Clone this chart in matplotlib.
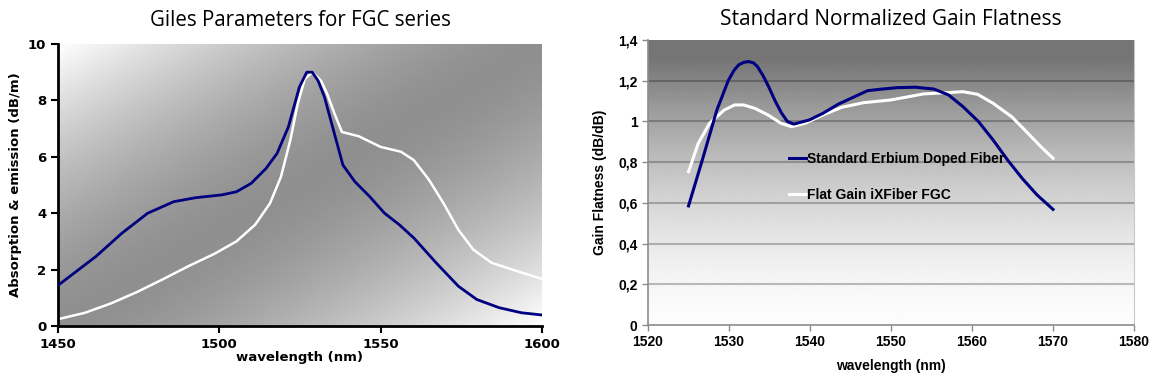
import numpy as np
import matplotlib.pyplot as plt
from matplotlib.ticker import FixedLocator, FixedFormatter

# left chart: Giles parameters (absorption / emission)
giles_abs_wl = [1450, 1461.8, 1469.8, 1477.8, 1485.9, 1492.7, 1500.8, 1505.3, 1509.9,
                1514.5, 1517.9, 1521.4, 1524.8, 1527.1, 1528.8, 1530.6, 1532.6, 1535.1,
                1538.3, 1542.0, 1546.6, 1551.2, 1555.8, 1560.3, 1567.2, 1574.1, 1579.8,
                1586.7, 1593.6, 1600]
giles_abs = [1.44, 2.47, 3.29, 4.0, 4.41, 4.55, 4.65, 4.76, 5.06,
             5.59, 6.12, 7.06, 8.47, 9.0, 9.0, 8.7, 8.12, 7.06,
             5.71, 5.12, 4.59, 4.0, 3.59, 3.12, 2.24, 1.41, 0.94,
             0.65, 0.47, 0.39]

giles_em_wl = [1450, 1458.4, 1466.4, 1474.4, 1482.4, 1490.4, 1498.5, 1505.3, 1511.1,
               1515.7, 1519.1, 1522.0, 1524.3, 1526.5, 1528.8, 1531.5, 1533.4, 1535.7,
               1538.0, 1543.2, 1550.0, 1556.3, 1560.3, 1565.0, 1569.5, 1574.1, 1578.7,
               1584.4, 1592.4, 1600]
giles_em = [0.24, 0.47, 0.8, 1.2, 1.65, 2.12, 2.56, 3.0, 3.59,
            4.35, 5.29, 6.59, 7.88, 8.76, 9.0, 8.7, 8.24, 7.53,
            6.88, 6.73, 6.35, 6.18, 5.88, 5.18, 4.35, 3.41, 2.71,
            2.24, 1.94, 1.67]

# right chart: normalized gain flatness
std_wl = [1525, 1526.7, 1528.5, 1529.9, 1530.6, 1531.2, 1531.8, 1532.4, 1533.0, 1533.5,
          1534.2, 1534.9, 1535.7, 1536.5, 1537.2, 1538.0, 1539.9, 1541.6, 1543.5, 1545.3,
          1547.1, 1548.9, 1550.8, 1553.0, 1555.3, 1557.1, 1558.9, 1560.8, 1562.6, 1564.4,
          1566.2, 1568.0, 1570.0]
std_gain = [0.585, 0.81, 1.056, 1.20, 1.25, 1.278, 1.29, 1.294, 1.288, 1.27,
            1.225, 1.17, 1.10, 1.04, 1.0, 0.987, 1.007, 1.04, 1.085, 1.118,
            1.151, 1.159, 1.166, 1.168, 1.159, 1.13, 1.072, 0.999, 0.909, 0.81,
            0.72, 0.64, 0.568]

fgc_wl = [1525, 1526.2, 1527.6, 1529.4, 1530.7, 1531.8, 1533.2, 1534.8, 1536.4, 1537.7,
          1539.4, 1541.6, 1543.9, 1546.6, 1549.9, 1551.7, 1554.0, 1556.7, 1558.9, 1560.7,
          1562.6, 1564.9, 1566.7, 1568.5, 1570.0]
fgc_gain = [0.753, 0.892, 0.991, 1.056, 1.081, 1.081, 1.064, 1.032, 0.991, 0.974,
            0.991, 1.032, 1.069, 1.092, 1.105, 1.118, 1.135, 1.141, 1.146, 1.133,
            1.089, 1.023, 0.95, 0.876, 0.819]

left_yticks = [0, 2, 4, 6, 8, 10]
left_xticks = [1450, 1500, 1550, 1600]
right_yticks = [0, 0.2, 0.4, 0.6, 0.8, 1.0, 1.2, 1.4]
right_ylabels = ['0', '0,2', '0,4', '0,6', '0,8', '1', '1,2', '1,4']
right_xticks = [1520, 1530, 1540, 1550, 1560, 1570, 1580]

navy = '#000080'

fig = plt.figure(figsize=(11.58, 3.78), dpi=100)

# ---- left chart
ax1 = fig.add_axes([0.0501, 0.1376, 0.4179, 0.746])
xn, yn = np.meshgrid(np.linspace(0, 1, 300), np.linspace(1, 0, 300))
t = np.abs(xn - yn)
shade = 0.56 + 0.44 * t ** 1.5
ax1.imshow(shade, cmap='gray', vmin=0, vmax=1, extent=[1450, 1600, 0, 10],
           aspect='auto', zorder=0, interpolation='bilinear')
ax1.plot(giles_em_wl, giles_em, color='white', lw=1.8, zorder=2)
ax1.plot(giles_abs_wl, giles_abs, color=navy, lw=2, zorder=3)
ax1.set_xlim(1450, 1600)
ax1.set_ylim(0, 10)
ax1.set_xticks(left_xticks)
ax1.set_yticks(left_yticks)
for s in ['top', 'right']:
    ax1.spines[s].set_visible(False)
for s in ['left', 'bottom']:
    ax1.spines[s].set_linewidth(2)
ax1.tick_params(direction='out', length=5, width=1.5, labelsize=9.5)
for lab in ax1.get_xticklabels() + ax1.get_yticklabels():
    lab.set_fontweight('bold')
ax1.set_xlabel('wavelength (nm)', fontsize=9.5, fontweight='bold', labelpad=0)
ax1.set_ylabel('Absorption & emission (dB/m)', fontsize=9.5, fontweight='bold', labelpad=4)
ax1.set_title('Giles Parameters for FGC series', family='Open Sans', fontsize=14.8, pad=13)

# ---- right chart
ax2 = fig.add_axes([0.5596, 0.1402, 0.4197, 0.7540])
yy = np.linspace(1.4, 0, 300).reshape(-1, 1)
grad = 0.99 - 0.53 * np.clip(yy / 1.3, 0, 1) ** 1.6
ax2.imshow(grad, cmap='gray', vmin=0, vmax=1, extent=[1520, 1580, 0, 1.4],
           aspect='auto', zorder=0, interpolation='bilinear')
ax2.set_xlim(1520, 1580)
ax2.set_ylim(0, 1.4)
for yv in right_yticks[1:-1]:
    ax2.axhline(yv, color='black', alpha=0.25, lw=1.5, zorder=1)
ax2.plot(std_wl, std_gain, color=navy, lw=2.2, zorder=3, label='Standard Erbium Doped Fiber')
ax2.plot(fgc_wl, fgc_gain, color='white', lw=2.2, zorder=2, label='Flat Gain iXFiber FGC')
ax2.yaxis.set_major_locator(FixedLocator(right_yticks))
ax2.yaxis.set_major_formatter(FixedFormatter(right_ylabels))
ax2.set_xticks(right_xticks)
for s in ['left', 'bottom']:
    ax2.spines[s].set_color('#8c8c8c')
    ax2.spines[s].set_linewidth(1.2)
ax2.spines['right'].set_color('#c8c8c8')
ax2.spines['top'].set_visible(False)
ax2.tick_params(direction='out', length=4, width=1, color='#8c8c8c', labelsize=10)
for lab in ax2.get_xticklabels() + ax2.get_yticklabels():
    lab.set_fontweight('bold')
    lab.set_family('Liberation Sans')
ax2.set_xlabel('wavelength (nm)', family='Liberation Sans', fontsize=10,
               fontweight='bold', labelpad=7)
ax2.set_ylabel('Gain Flatness (dB/dB)', family='Liberation Sans', fontsize=10,
               fontweight='bold', labelpad=8)
ax2.set_title('Standard Normalized Gain Flatness', family='Open Sans', fontsize=15, pad=11)
leg = ax2.legend(loc='upper left', bbox_to_anchor=(0.265, 0.45, 0.4, 0.2), frameon=False,
                 handlelength=1.2, handletextpad=0.1, labelspacing=1.55,
                 prop={'family': 'Liberation Sans', 'weight': 'bold', 'size': 10})

plt.savefig('out.png', dpi=100)
